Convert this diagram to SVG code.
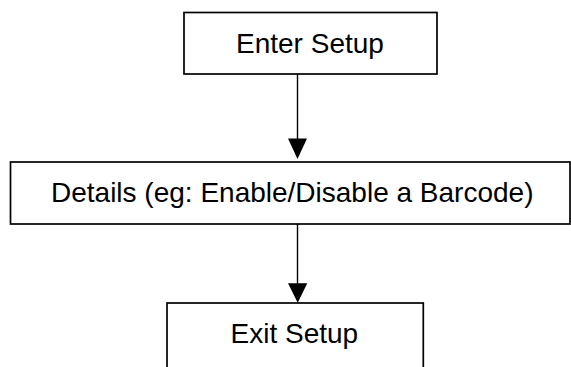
<svg xmlns="http://www.w3.org/2000/svg" width="571" height="367" viewBox="0 0 571 367">
<style>
.box{fill:#fff;stroke:#000;stroke-width:1.7}
.lbl{font-family:"Liberation Sans",Arial,sans-serif;font-size:28px;fill:#000}
.conn{stroke:#000;stroke-width:1.4;fill:none}
.head{fill:#000;stroke:none}
</style>
<rect width="571" height="367" fill="#fff"/>
<g id="enter-setup">
<rect class="box" x="184" y="12.5" width="253" height="61.5"/>
<text class="lbl" x="236" y="52.7">Enter Setup</text>
</g>
<g id="details">
<rect class="box" x="10.5" y="162" width="559.5" height="62"/>
<text class="lbl" x="51" y="202.3">Details (eg: Enable/Disable a Barcode)</text>
</g>
<g id="exit-setup">
<rect class="box" x="167" y="303" width="256.3" height="80"/>
<text class="lbl" x="230.5" y="343.3">Exit Setup</text>
</g>
<g id="connectors">
<line class="conn" x1="297.5" y1="74" x2="297.5" y2="140"/>
<polygon class="head" points="288,138.5 307,138.5 297.5,159"/>
<line class="conn" x1="297.5" y1="224" x2="297.5" y2="285"/>
<polygon class="head" points="288,283.3 307.3,283.3 297.7,302.7"/>
</g>
</svg>
